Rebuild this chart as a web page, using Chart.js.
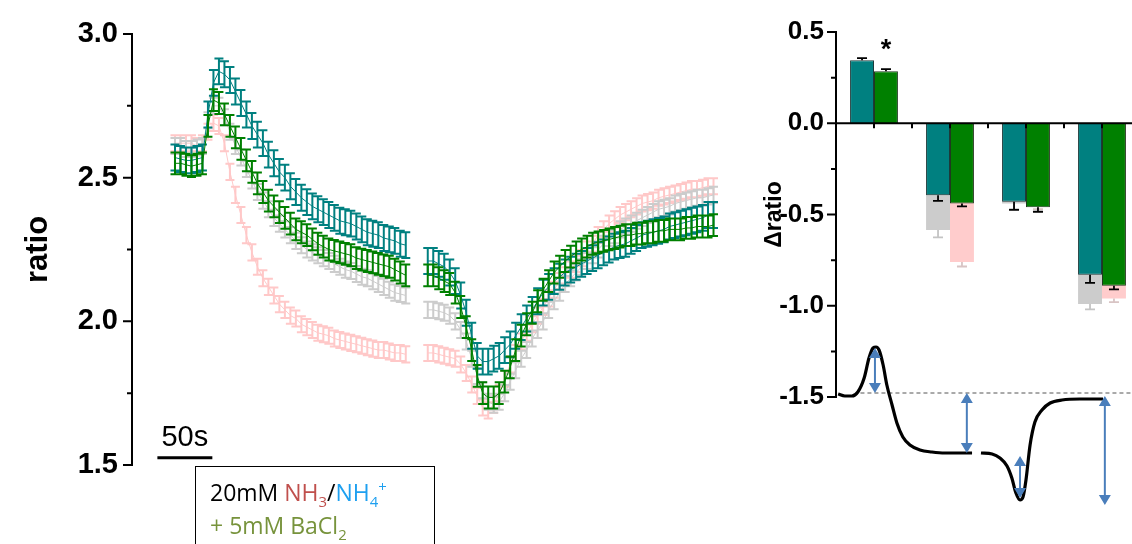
<!DOCTYPE html>
<html>
<head>
<meta charset="utf-8">
<script src="https://cdn.jsdelivr.net/npm/chart.js@4.4.1/dist/chart.umd.min.js"></script>
<style>
  html, body { margin: 0; padding: 0; background: #fff; }
  body { width: 1132px; height: 544px; overflow: hidden; position: relative; }
  canvas { position: absolute; }
  #traceChart { left: 0; top: 0; }
  #barChart { left: 740px; top: 0; }
  #schemeChart { left: 760px; top: 320px; }
  .legendBox {
    position: absolute; left: 195px; top: 466px; width: 240px; height: 100px;
    border: 1.5px solid #000; box-sizing: border-box;
    font-family: 'Open Sans', 'Noto Sans', sans-serif; font-size: 23px; line-height: 33px;
    padding: 9px 0 0 14px; color: #000;
  }
  .legendBox sub, .legendBox sup { font-size: 65%; line-height: 0; }
  .nh3 { color: #c0504d; }
  .nh4 { color: #1ea0f0; }
  .ba { color: #77933c; }
</style>
</head>
<body>
<canvas id="traceChart" width="740" height="544"></canvas>
<canvas id="barChart" width="400" height="544"></canvas>
<canvas id="schemeChart" width="372" height="200"></canvas>
<div class="legendBox">
  <div>20mM <span class="nh3">NH<sub>3</sub></span>/<span class="nh4">NH<sub>4</sub><sup>+</sup></span></div>
  <div class="ba">+ 5mM BaCl<sub>2</sub></div>
</div>
<script>
// ---- left panel: ratio traces (mean ± SEM), sampled every 5 s ----
const sampleInterval = 5; // s
const gapPoints = 3;

const pinkBefore = [2.62, 2.62, 2.62, 2.62, 2.61, 2.62, 2.66, 2.69, 2.68, 2.62, 2.52, 2.44, 2.37, 2.30, 2.24,
  2.19, 2.15, 2.12, 2.09, 2.06, 2.04, 2.02, 2.01, 1.99, 1.98, 1.97, 1.96, 1.955, 1.95, 1.94,
  1.935, 1.93, 1.925, 1.92, 1.915, 1.91, 1.905, 1.90, 1.90, 1.895, 1.89, 1.89, 1.885];
const pinkAfter = [1.89, 1.89, 1.885, 1.88, 1.875, 1.87, 1.85, 1.82, 1.78, 1.74, 1.70, 1.69, 1.71, 1.75, 1.80,
  1.85, 1.89, 1.93, 1.96, 1.99, 2.02, 2.05, 2.08, 2.11, 2.14, 2.16, 2.18, 2.20, 2.22, 2.25,
  2.27, 2.30, 2.32, 2.34, 2.355, 2.37, 2.38, 2.39, 2.40, 2.41, 2.415, 2.42, 2.43, 2.435, 2.44,
  2.445, 2.45, 2.455, 2.46, 2.46, 2.465, 2.47, 2.47];

const greyBefore = [2.61, 2.61, 2.60, 2.60, 2.605, 2.61, 2.70, 2.75, 2.75, 2.71, 2.66, 2.61, 2.57, 2.53, 2.49,
  2.45, 2.42, 2.39, 2.36, 2.34, 2.32, 2.30, 2.28, 2.265, 2.25, 2.24, 2.23, 2.22, 2.21, 2.20,
  2.19, 2.18, 2.175, 2.165, 2.155, 2.15, 2.14, 2.13, 2.12, 2.11, 2.10, 2.095, 2.09];
const greyAfter = [2.04, 2.04, 2.035, 2.03, 2.02, 2.00, 1.97, 1.93, 1.87, 1.81, 1.76, 1.72, 1.71, 1.72, 1.75,
  1.79, 1.83, 1.87, 1.90, 1.94, 1.97, 2.00, 2.04, 2.07, 2.10, 2.13, 2.15, 2.17, 2.19, 2.21,
  2.23, 2.25, 2.27, 2.29, 2.30, 2.32, 2.33, 2.34, 2.35, 2.36, 2.37, 2.38, 2.39, 2.395, 2.40,
  2.41, 2.415, 2.42, 2.425, 2.43, 2.43, 2.435, 2.44];

const tealBefore = [2.57, 2.565, 2.56, 2.56, 2.565, 2.57, 2.72, 2.83, 2.87, 2.86, 2.84, 2.80, 2.76, 2.72, 2.68,
  2.65, 2.62, 2.58, 2.55, 2.52, 2.50, 2.47, 2.45, 2.43, 2.415, 2.40, 2.39, 2.38, 2.37, 2.36,
  2.35, 2.345, 2.34, 2.33, 2.32, 2.31, 2.305, 2.30, 2.29, 2.285, 2.28, 2.27, 2.265];
const tealAfter = [2.21, 2.21, 2.20, 2.19, 2.17, 2.14, 2.09, 2.03, 1.95, 1.88, 1.86, 1.86, 1.87, 1.88, 1.90,
  1.92, 1.95, 1.98, 2.01, 2.04, 2.07, 2.10, 2.12, 2.14, 2.155, 2.17, 2.18, 2.19, 2.20, 2.21,
  2.22, 2.23, 2.24, 2.25, 2.26, 2.265, 2.27, 2.28, 2.29, 2.30, 2.305, 2.31, 2.315, 2.32, 2.33,
  2.335, 2.34, 2.345, 2.35, 2.355, 2.36, 2.37, 2.37];

const greenBefore = [2.55, 2.55, 2.545, 2.54, 2.545, 2.55, 2.68, 2.77, 2.76, 2.72, 2.68, 2.64, 2.60, 2.56, 2.52,
  2.48, 2.45, 2.42, 2.40, 2.38, 2.36, 2.34, 2.32, 2.31, 2.30, 2.285, 2.27, 2.26, 2.25, 2.245,
  2.24, 2.235, 2.23, 2.22, 2.215, 2.21, 2.205, 2.20, 2.195, 2.19, 2.18, 2.17, 2.16];
const greenAfter = [2.16, 2.16, 2.15, 2.14, 2.13, 2.10, 2.05, 1.98, 1.90, 1.81, 1.75, 1.735, 1.735, 1.75, 1.79,
  1.84, 1.90, 1.95, 1.99, 2.03, 2.07, 2.11, 2.14, 2.17, 2.19, 2.21, 2.225, 2.24, 2.25, 2.26,
  2.27, 2.275, 2.28, 2.285, 2.29, 2.295, 2.30, 2.30, 2.305, 2.305, 2.31, 2.31, 2.315, 2.315, 2.32,
  2.32, 2.32, 2.325, 2.325, 2.33, 2.33, 2.33, 2.335];

const traceSem = { pink: 0.028, grey: 0.028, teal: 0.045, green: 0.038 };
const ratioTicks = [1.5, 2.0, 2.5, 3.0];
const scaleBar = { start: -16, length: 50, level: 1.525, label: '50s' };

// ---- right panel: Δratio bars ----
const barGroups = ['peak', 'plateau', 'undershoot', 'recovery'];
const tealBars = [0.345, -0.395, -0.43, -0.83];
const greenBars = [0.285, -0.44, -0.46, -0.89];
const greyBars = [null, -0.585, -0.44, -0.99];
const pinkBars = [null, -0.76, -0.45, -0.96];
const tealBarSem = [0.012, 0.03, 0.045, 0.045];
const greenBarSem = [0.012, 0.015, 0.025, 0.02];
const greyBarSem = [null, 0.04, 0.03, 0.03];
const pinkBarSem = [null, 0.025, 0.02, 0.02];
const significance = ['*', '', '', ''];
const deltaTicks = [-1.5, -1.0, -0.5, 0.0, 0.5];

// ---- schematic of the response ----
const riseX = [21.0, 22.8, 24.7, 26.3, 28.0, 29.3, 30.4, 31.2, 32.0, 33.1, 34.1, 35.5, 36.8, 38.4, 40.3, 43.0, 46.2, 49.7, 57.0];
const riseY = [-0.01, -0.03, -0.03, 0.01, 0.15, 0.35, 0.45, 0.46, 0.43, 0.28, 0.08, -0.12, -0.30, -0.44, -0.52, -0.57, -0.59, -0.60, -0.60];
const washX = [59.4, 62.4, 64.5, 66.4, 67.7, 68.8, 69.9, 70.7, 71.5, 72.6, 73.9, 75.8, 78.0, 81.2, 86.0, 92.2];
const washY = [-0.60, -0.61, -0.65, -0.73, -0.85, -1.00, -1.07, -1.04, -0.87, -0.52, -0.29, -0.17, -0.10, -0.07, -0.06, -0.06];
const baselineX = [27, 100];
const arrowX = [30.9, 55.6, 69.9, 92.7];
const arrowTop = [0.45, 0.0, -0.63, -0.03];
const arrowBottom = [0.0, -0.60, -1.05, -1.12];

const FONT = "'Liberation Sans', Arial, sans-serif";

function withGap(before, after) {
  const vals = before.concat(new Array(gapPoints).fill(null), after);
  return vals.map((v, i) => ({ x: i * sampleInterval, y: v }));
}

function isMajor(v) {
  return Math.abs(v * 2 - Math.round(v * 2)) < 1e-6;
}

// draws y axis line + major/minor ticks on the left edge of the chart area
function drawYAxis(chart, lo, hi) {
  const ctx = chart.ctx, ys = chart.scales.y, x0 = chart.chartArea.left;
  ctx.save();
  ctx.strokeStyle = '#000';
  ctx.lineWidth = 2;
  ctx.beginPath();
  ctx.moveTo(x0, ys.getPixelForValue(hi) - 1);
  ctx.lineTo(x0, ys.getPixelForValue(lo) + 1);
  ys.ticks.forEach(t => {
    const y = ys.getPixelForValue(t.value);
    const len = isMajor(t.value) ? 9 : 5;
    ctx.moveTo(x0 - len, y);
    ctx.lineTo(x0, y);
  });
  ctx.stroke();
  ctx.restore();
}

const traceDecor = {
  id: 'traceDecor',
  afterDatasetDraw(chart, args) {
    const ds = chart.data.datasets[args.index];
    const xs = chart.scales.x, ys = chart.scales.y, ctx = chart.ctx;
    ctx.save();
    ctx.strokeStyle = ds.borderColor;
    ctx.lineWidth = 2;
    ctx.beginPath();
    ds.data.forEach(p => {
      if (p.y == null) return;
      const x = xs.getPixelForValue(p.x);
      const y1 = ys.getPixelForValue(p.y + ds.sem);
      const y2 = ys.getPixelForValue(p.y - ds.sem);
      ctx.moveTo(x, y1); ctx.lineTo(x, y2);
      ctx.moveTo(x - 4.5, y1); ctx.lineTo(x + 4.5, y1);
      ctx.moveTo(x - 4.5, y2); ctx.lineTo(x + 4.5, y2);
    });
    ctx.stroke();
    ctx.restore();
  },
  afterDraw(chart) {
    drawYAxis(chart, 1.5, 3.0);
    const ctx = chart.ctx, xs = chart.scales.x, ys = chart.scales.y;
    const xa = xs.getPixelForValue(scaleBar.start);
    const xb = xs.getPixelForValue(scaleBar.start + scaleBar.length);
    const y = ys.getPixelForValue(scaleBar.level);
    ctx.save();
    ctx.strokeStyle = '#000';
    ctx.lineWidth = 3;
    ctx.beginPath();
    ctx.moveTo(xa, y); ctx.lineTo(xb, y);
    ctx.stroke();
    ctx.fillStyle = '#000';
    ctx.font = '29px ' + FONT;
    ctx.textAlign = 'center';
    ctx.textBaseline = 'alphabetic';
    ctx.fillText(scaleBar.label, (xa + xb) / 2, y - 12);
    ctx.restore();
  }
};

new Chart(document.getElementById('traceChart'), {
  type: 'line',
  data: {
    datasets: [
      { label: 'green', data: withGap(greenBefore, greenAfter), borderColor: '#008000', sem: traceSem.green },
      { label: 'teal', data: withGap(tealBefore, tealAfter), borderColor: '#008080', sem: traceSem.teal },
      { label: 'grey', data: withGap(greyBefore, greyAfter), borderColor: '#cccccc', sem: traceSem.grey },
      { label: 'pink', data: withGap(pinkBefore, pinkAfter), borderColor: '#ffc8c8', sem: traceSem.pink }
    ]
  },
  options: {
    responsive: false,
    animation: false,
    spanGaps: false,
    layout: { padding: { top: 34, bottom: 79, left: 0, right: 0 } },
    elements: { point: { radius: 0 }, line: { borderWidth: 1, tension: 0 } },
    plugins: { legend: { display: false }, tooltip: { enabled: false } },
    scales: {
      x: { type: 'linear', display: false, min: -39.1, max: 514.1 },
      y: {
        min: 1.5, max: 3.0,
        afterFit: s => { s.width = 132; },
        grid: { display: false, drawTicks: false },
        border: { display: false },
        ticks: {
          stepSize: 0.25, autoSkip: false, padding: 14, color: '#000',
          font: { family: FONT, size: 29, weight: 'bold' },
          callback: v => (ratioTicks.some(t => Math.abs(t - v) < 1e-6) ? v.toFixed(1) : '')
        },
        title: {
          display: true, text: 'ratio', color: '#000', padding: { top: 20, bottom: 0 },
          font: { family: FONT, size: 31, weight: 'bold' }
        }
      }
    }
  },
  plugins: [traceDecor]
});

// ---- bar panel ----
const barDecor = {
  id: 'barDecor',
  afterDatasetDraw(chart, args) {
    const ds = chart.data.datasets[args.index];
    const ys = chart.scales.y, ctx = chart.ctx;
    ctx.save();
    ctx.strokeStyle = ds.semColor;
    ctx.lineWidth = 1.8;
    ctx.beginPath();
    args.meta.data.forEach((bar, i) => {
      const v = ds.data[i], e = ds.sem[i];
      if (v == null || e == null) return;
      const end = ys.getPixelForValue(v + Math.sign(v) * e);
      ctx.moveTo(bar.x, bar.y); ctx.lineTo(bar.x, end);
      ctx.moveTo(bar.x - 5, end); ctx.lineTo(bar.x + 5, end);
    });
    ctx.stroke();
    ctx.restore();
  },
  afterDraw(chart) {
    drawYAxis(chart, -1.5, 0.5);
    const ctx = chart.ctx, xs = chart.scales.x, ys = chart.scales.y;
    const y0 = ys.getPixelForValue(0);
    ctx.save();
    ctx.strokeStyle = '#000';
    ctx.lineWidth = 2;
    ctx.beginPath();
    ctx.moveTo(chart.chartArea.left, y0);
    ctx.lineTo(chart.width, y0);
    const step = xs.getPixelForValue(1) - xs.getPixelForValue(0);
    barGroups.forEach((g, i) => {
      const xc = xs.getPixelForValue(i);
      ctx.moveTo(xc, y0); ctx.lineTo(xc, y0 + 5);
      ctx.moveTo(xc + step / 2, y0); ctx.lineTo(xc + step / 2, y0 + 5);
    });
    ctx.stroke();
    // significance marks above the green bars
    const greenMeta = chart.getDatasetMeta(1);
    ctx.fillStyle = '#000';
    ctx.font = 'bold 27px ' + FONT;
    ctx.textAlign = 'center';
    ctx.textBaseline = 'alphabetic';
    significance.forEach((s, i) => {
      if (!s) return;
      const bar = greenMeta.data[i];
      ctx.fillText(s, bar.x, bar.y - 13);
    });
    ctx.restore();
  }
};

new Chart(document.getElementById('barChart'), {
  type: 'bar',
  data: {
    labels: barGroups,
    datasets: [
      { label: 'teal', data: tealBars, stack: 'a', backgroundColor: '#008080', borderColor: '#1d3a3a', borderWidth: 1, sem: tealBarSem, semColor: '#000' },
      { label: 'green', data: greenBars, stack: 'b', backgroundColor: '#008000', borderColor: '#1f3a1f', borderWidth: 1, sem: greenBarSem, semColor: '#000' },
      { label: 'grey', data: greyBars, stack: 'a', backgroundColor: '#cccccc', borderWidth: 0, sem: greyBarSem, semColor: '#c4c4c4' },
      { label: 'pink', data: pinkBars, stack: 'b', backgroundColor: '#ffcccc', borderWidth: 0, sem: pinkBarSem, semColor: '#d8c4c4' }
    ]
  },
  options: {
    responsive: false,
    animation: false,
    layout: { padding: { top: 32, bottom: 147, left: 0, right: 0 } },
    datasets: { bar: { categoryPercentage: 0.63, barPercentage: 1.0 } },
    plugins: { legend: { display: false }, tooltip: { enabled: false } },
    scales: {
      x: { type: 'category', display: false, stacked: true, offset: true },
      y: {
        stacked: false,
        min: -1.5, max: 0.5,
        afterFit: s => { s.width = 96; },
        grid: { display: false, drawTicks: false },
        border: { display: false },
        ticks: {
          stepSize: 0.25, autoSkip: false, padding: 12, color: '#000',
          font: { family: FONT, size: 26, weight: 'bold' },
          callback: v => (deltaTicks.some(t => Math.abs(t - v) < 1e-6) ? v.toFixed(1) : '')
        },
        title: {
          display: true, text: 'Δratio', color: '#000', padding: { top: 21, bottom: 0 },
          font: { family: FONT, size: 23, weight: 'bold' }
        }
      }
    }
  },
  plugins: [barDecor]
});

// ---- schematic of the response with measured amplitudes ----
const arrowDecor = {
  id: 'arrowDecor',
  afterDatasetsDraw(chart) {
    const ctx = chart.ctx, xs = chart.scales.x, ys = chart.scales.y;
    ctx.save();
    ctx.strokeStyle = '#4a7ebb';
    ctx.fillStyle = '#4a7ebb';
    ctx.lineWidth = 2;
    arrowX.forEach((ax, i) => {
      const x = xs.getPixelForValue(ax);
      const yt = ys.getPixelForValue(arrowTop[i]);
      const yb = ys.getPixelForValue(arrowBottom[i]);
      ctx.beginPath();
      ctx.moveTo(x, yt + 8); ctx.lineTo(x, yb - 8);
      ctx.stroke();
      ctx.beginPath();
      ctx.moveTo(x, yt); ctx.lineTo(x - 6, yt + 10); ctx.lineTo(x + 6, yt + 10); ctx.closePath();
      ctx.moveTo(x, yb); ctx.lineTo(x - 6, yb - 10); ctx.lineTo(x + 6, yb - 10); ctx.closePath();
      ctx.fill();
    });
    ctx.restore();
  }
};

const pts = (xs, ys) => xs.map((x, i) => ({ x, y: ys[i] }));

new Chart(document.getElementById('schemeChart'), {
  type: 'line',
  data: {
    datasets: [
      { data: pts(riseX, riseY), borderColor: '#000', borderWidth: 3.2, cubicInterpolationMode: 'monotone' },
      { data: pts(washX, washY), borderColor: '#000', borderWidth: 3.2, cubicInterpolationMode: 'monotone' },
      { data: pts(baselineX, [0, 0]), borderColor: '#555', borderWidth: 1, borderDash: [4, 3] }
    ]
  },
  options: {
    responsive: false,
    animation: false,
    layout: { padding: 0 },
    elements: { point: { radius: 0 } },
    plugins: { legend: { display: false }, tooltip: { enabled: false } },
    scales: {
      x: { type: 'linear', display: false, min: 0, max: 100 },
      y: { display: false, min: -1.27, max: 0.73 }
    }
  },
  plugins: [arrowDecor]
});
</script>
</body>
</html>
